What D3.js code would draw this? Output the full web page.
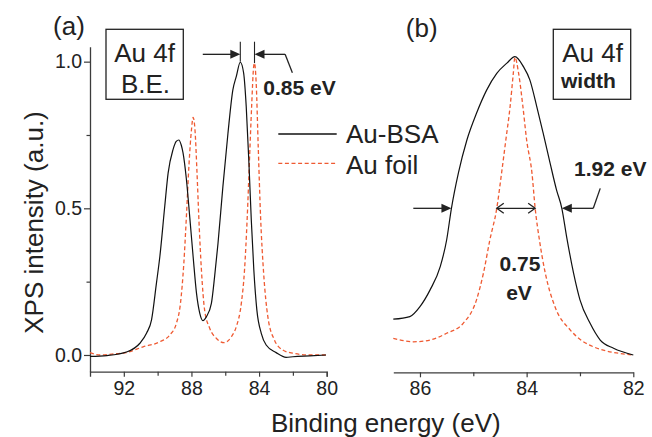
<!DOCTYPE html>
<html><head><meta charset="utf-8">
<script src="https://cdn.jsdelivr.net/npm/d3@7"></script>
<style>
html,body{margin:0;padding:0;background:#fff;}
svg{display:block;font-family:"Liberation Sans",Arial,Helvetica,sans-serif;}
</style></head>
<body>
<svg id="chart" width="652" height="437"></svg>
<script>
// ---------- DATA ----------
// Panel (a): full Au 4f doublet, [binding energy (eV), normalised intensity]
const auBsaA = [[94.0,-0.005],[93.0,-0.002],[91.8,0.011],[91.05,0.04],[90.65,0.075],[90.36,0.12],[90.07,0.245],[89.87,0.335],[89.58,0.506],[89.38,0.62],[89.09,0.70],[88.9,0.728],[88.75,0.733],[88.6,0.715],[88.5,0.69],[88.3,0.60],[88.1,0.47],[87.9,0.335],[87.7,0.21],[87.51,0.143],[87.32,0.117],[87.12,0.13],[86.82,0.176],[86.63,0.267],[86.43,0.38],[86.14,0.574],[85.84,0.756],[85.55,0.904],[85.35,0.949],[85.11,0.998],[84.91,0.96],[84.76,0.847],[84.6,0.654],[84.46,0.46],[84.31,0.29],[84.13,0.153],[83.87,0.074],[83.58,0.034],[82.99,0.008],[82.4,-0.008],[82.0,-0.006],[81.0,-0.003],[80.04,0.0]];
const auFoilA = [[94.0,0.008],[93.41,0.0],[92.5,0.004],[91.84,0.008],[90.86,0.028],[89.87,0.045],[89.28,0.068],[88.89,0.108],[88.65,0.176],[88.45,0.313],[88.3,0.47],[88.14,0.654],[88.0,0.767],[87.9,0.81],[87.79,0.767],[87.67,0.62],[87.55,0.45],[87.41,0.29],[87.22,0.153],[86.92,0.091],[86.53,0.057],[86.08,0.042],[85.64,0.062],[85.35,0.096],[85.05,0.176],[84.86,0.29],[84.7,0.47],[84.56,0.676],[84.44,0.847],[84.32,0.983],[84.27,0.995],[84.17,0.926],[84.05,0.71],[83.91,0.47],[83.73,0.279],[83.48,0.13],[83.09,0.051],[82.6,0.017],[82.0,0.006],[81.0,0.0],[80.04,0.0]];
// Panel (b): Au 4f7/2 peak, normalised and aligned
const auBsaB = [[86.5,0.122],[86.19,0.131],[86.0,0.165],[85.81,0.222],[85.62,0.301],[85.5,0.392],[85.41,0.5],[85.28,0.62],[85.12,0.733],[84.94,0.824],[84.75,0.903],[84.56,0.96],[84.37,0.995],[84.22,1.017],[84.06,0.983],[83.94,0.938],[83.81,0.847],[83.69,0.756],[83.56,0.654],[83.44,0.563],[83.34,0.5],[83.25,0.403],[83.12,0.279],[83.0,0.188],[82.81,0.108],[82.62,0.051],[82.37,0.023],[82.0,0.0]];
const auFoilB = [[86.5,0.057],[86.12,0.045],[85.81,0.051],[85.5,0.074],[85.19,0.108],[84.94,0.188],[84.81,0.279],[84.69,0.392],[84.56,0.5],[84.47,0.62],[84.39,0.733],[84.31,0.847],[84.25,0.96],[84.22,1.015],[84.15,0.96],[84.07,0.847],[84.0,0.733],[83.9,0.62],[83.84,0.5],[83.76,0.392],[83.65,0.279],[83.47,0.165],[83.18,0.085],[82.75,0.028],[82.0,0.0]];

const xTicksA = [92, 88, 84, 80];
const xMinorA = [90, 86, 82];
const xTicksB = [86, 84, 82];
const xMinorB = [85, 83];
const yTicks = [0.0, 0.5, 1.0];
const yMinor = [0.25, 0.75];
const seriesNames = ["Au-BSA", "Au foil"];

// Annotation values (data units)
const peakBsa = 85.11, peakFoil = 84.27;       // 0.85 eV shift
const fwhmBsa = [85.41, 83.34];                // 1.92 eV
const fwhmFoil = [84.56, 83.84];               // 0.75 eV

// ---------- DRAW ----------
const svg = d3.select("#chart");
const ink = "#222", axisCol = "#3c3c3c", red = "#ef5a32";

const xA = d3.scaleLinear().domain([94, 80]).range([90, 326.7]);
const xB = d3.scaleLinear().domain([86.5, 82]).range([393.3, 633.3]);
const y = d3.scaleLinear().domain([-0.057, 1.051]).range([371.7, 46.7]);
const axisY = y(-0.057);

function styleAxis(g){
  g.select(".domain").attr("stroke", axisCol).attr("stroke-width", 1.3);
  g.selectAll(".tick line").attr("stroke", axisCol).attr("stroke-width", 1.2);
  g.selectAll(".tick text").attr("fill", ink).style("font-size", "19.5px")
    .style("font-family", '"Liberation Sans",Arial,sans-serif');
}

// Panel (a) axes
svg.append("g").attr("transform", `translate(0,${axisY})`)
  .call(d3.axisBottom(xA).tickValues(xTicksA).tickFormat(d3.format("d")).tickSize(5).tickPadding(4.5))
  .call(styleAxis);
svg.append("g").attr("transform", `translate(0,${axisY})`)
  .call(d3.axisBottom(xA).tickValues(xMinorA).tickFormat("").tickSize(4).tickSizeOuter(0))
  .call(g => g.select(".domain").remove()).call(styleAxis);
svg.append("g").attr("transform", `translate(${xA.range()[0]},0)`)
  .call(d3.axisLeft(y).tickValues(yTicks).tickFormat(d3.format(".1f")).tickSize(6).tickSizeOuter(0).tickPadding(2))
  .call(styleAxis);
svg.append("g").attr("transform", `translate(${xA.range()[0]},0)`)
  .call(d3.axisLeft(y).tickValues(yMinor).tickFormat("").tickSize(3.5))
  .call(g => g.select(".domain").remove()).call(styleAxis);

// Panel (b) axes
svg.append("g").attr("transform", `translate(0,${axisY + 0.6})`)
  .call(d3.axisBottom(xB).tickValues(xTicksB).tickFormat(d3.format("d")).tickSize(5).tickSizeOuter(0).tickPadding(4))
  .call(styleAxis);
svg.append("g").attr("transform", `translate(0,${axisY + 0.6})`)
  .call(d3.axisBottom(xB).tickValues(xMinorB).tickFormat("").tickSize(4).tickSizeOuter(0))
  .call(g => g.select(".domain").remove()).call(styleAxis);

// Curves
function drawLine(data, xs, color, dashed, width){
  const line = d3.line().x(d => xs(d[0])).y(d => y(d[1])).curve(d3.curveMonotoneX);
  const sorted = data.slice().sort((a,b) => xs(a[0]) - xs(b[0]));
  svg.append("path").datum(sorted).attr("d", line).attr("fill", "none")
    .attr("stroke", color).attr("stroke-width", width)
    .attr("stroke-dasharray", dashed ? "4,2.6" : null)
    .attr("stroke-linejoin", "round");
}
drawLine(auFoilA, xA, red, true, 1.3);
drawLine(auBsaA, xA, "#111", false, 1.2);
drawLine(auFoilB, xB, red, true, 1.3);
drawLine(auBsaB, xB, "#111", false, 1.2);

// Helpers for annotations
function txt(x, yy, s, size, opts = {}){
  return svg.append("text").attr("x", x).attr("y", yy).text(s)
    .attr("fill", ink).style("font-size", size + "px")
    .style("font-weight", opts.bold ? "bold" : "normal")
    .attr("text-anchor", opts.anchor || "start");
}
function seg(x1, y1, x2, y2, w = 1.3){
  svg.append("line").attr("x1", x1).attr("y1", y1).attr("x2", x2).attr("y2", y2)
    .attr("stroke", ink).attr("stroke-width", w);
}
function solidHead(tx, ty, dir){ // dir +1 points right, -1 left
  svg.append("path").attr("d", `M${tx},${ty}L${tx - dir*10},${ty - 4.5}L${tx - dir*10},${ty + 4.5}Z`)
    .attr("fill", ink);
}
function openHead(tx, ty, dir){
  svg.append("path").attr("d", `M${tx - dir*7},${ty - 5}L${tx},${ty}L${tx - dir*7},${ty + 5}`)
    .attr("fill", "none").attr("stroke", ink).attr("stroke-width", 1.3);
}

// Panel labels
txt(69, 35, "(a)", 26, {anchor: "middle"});
txt(421.7, 37, "(b)", 26, {anchor: "middle"});

// Boxes
svg.append("rect").attr("x", 106).attr("y", 29.3).attr("width", 77.3).attr("height", 70)
  .attr("fill", "none").attr("stroke", ink).attr("stroke-width", 1.3);
txt(144.5, 61.7, "Au 4f", 26, {anchor: "middle"});
txt(145.5, 93.3, "B.E.", 26, {anchor: "middle"});

svg.append("rect").attr("x", 553.3).attr("y", 29.3).attr("width", 77.4).attr("height", 70)
  .attr("fill", "none").attr("stroke", ink).attr("stroke-width", 1.3);
txt(592.5, 61.7, "Au 4f", 26, {anchor: "middle"});
txt(561, 88.3, "width", 21, {bold: true});

// Legend
const legX1 = 278.3, legX2 = 336.7;
svg.append("line").attr("x1", legX1).attr("x2", legX2).attr("y1", 134).attr("y2", 134)
  .attr("stroke", "#111").attr("stroke-width", 1.3);
svg.append("line").attr("x1", legX1).attr("x2", legX2).attr("y1", 163.3).attr("y2", 163.3)
  .attr("stroke", red).attr("stroke-width", 1.3).attr("stroke-dasharray", "4,2.6");
txt(346, 143.3, seriesNames[0], 26);
txt(346, 174, seriesNames[1], 26);

// 0.85 eV annotation (panel a)
const arrY = y(1.025), vTop = y(1.068);
seg(xA(peakBsa), vTop, xA(peakBsa), y(1.0), 1.1);
seg(xA(peakFoil), vTop, xA(peakFoil), y(0.995), 1.1);
seg(xA(87.33), arrY, xA(peakBsa) - 9, arrY);
solidHead(xA(peakBsa), arrY, 1);
seg(xA(peakFoil) + 9, arrY, xA(82.46), arrY);
seg(xA(82.46), arrY, xA(82.03), y(0.962));
solidHead(xA(peakFoil), arrY, -1);
txt(263.3, 95, "0.85 eV", 21, {bold: true});

// FWHM annotations (panel b)
const hY = y(0.5);
seg(xB(86.125), hY, xB(fwhmBsa[0]) - 9, hY);
solidHead(xB(fwhmBsa[0]), hY, 1);
seg(xB(fwhmBsa[1]) + 9, hY, xB(82.75), hY);
seg(xB(82.75), hY, xB(82.62), y(0.568));
solidHead(xB(fwhmBsa[1]), hY, -1);
seg(xB(fwhmFoil[0]), hY, xB(fwhmFoil[1]), hY);
openHead(xB(fwhmFoil[0]), hY, -1);
openHead(xB(fwhmFoil[1]), hY, 1);
txt(574, 176, "1.92 eV", 21, {bold: true});
txt(520, 271, "0.75", 21, {bold: true, anchor: "middle"});
txt(519, 300, "eV", 21, {bold: true, anchor: "middle"});

// Axis titles
txt(385.8, 432, "Binding energy (eV)", 26, {anchor: "middle"});
svg.append("text").attr("transform", "translate(43,222.5) rotate(-90)")
  .attr("text-anchor", "middle").attr("fill", ink).style("font-size", "26px")
  .text("XPS intensity (a.u.)");
</script>
</body></html>
